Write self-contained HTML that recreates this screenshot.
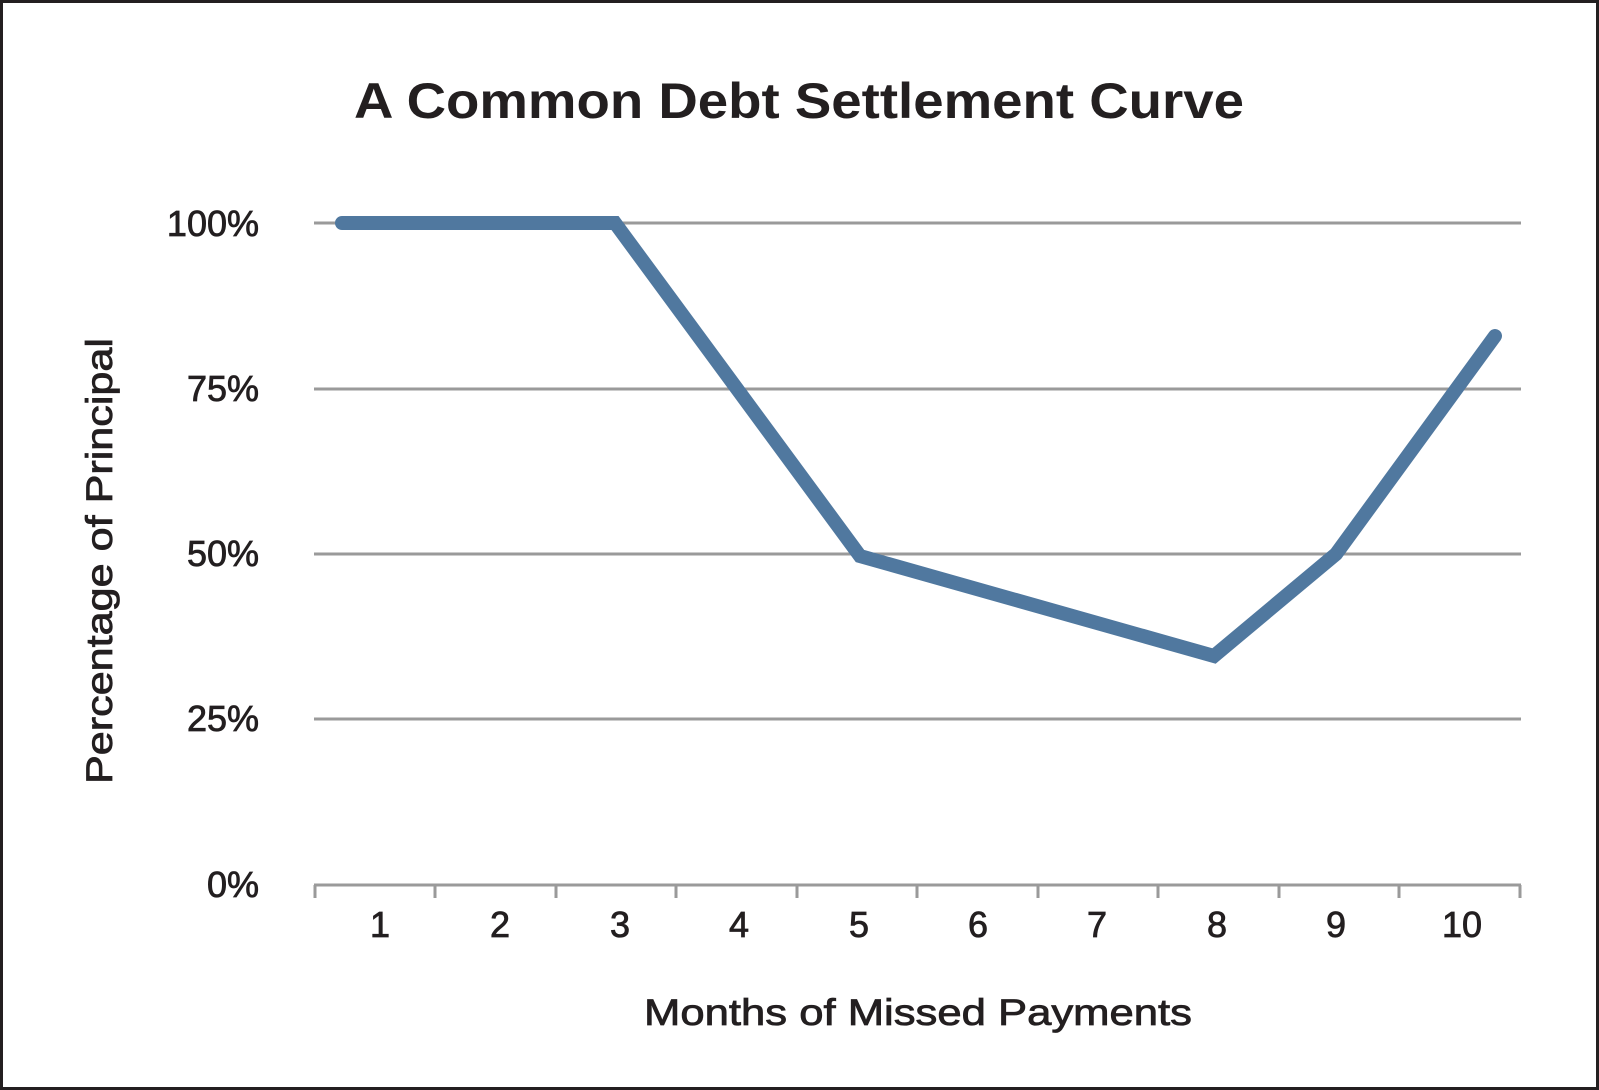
<!DOCTYPE html>
<html><head><meta charset="utf-8"><style>
html,body{margin:0;padding:0;background:#fff;}
svg{display:block;}
text{font-family:"Liberation Sans",sans-serif;fill:#231f20;}
.sb{stroke:#231f20;stroke-width:0.8;}
</style></head><body>
<svg width="1599" height="1090" viewBox="0 0 1599 1090">
<rect x="1.5" y="1.5" width="1596" height="1087" fill="#fff" stroke="#231f20" stroke-width="3"/>
<text x="799" y="118" font-size="50" font-weight="bold" text-anchor="middle" textLength="890" lengthAdjust="spacingAndGlyphs">A Common Debt Settlement Curve</text>
<g stroke="#9a9a9a" stroke-width="3">
<line x1="314" y1="223" x2="1521" y2="223"/>
<line x1="314" y1="389" x2="1521" y2="389"/>
<line x1="314" y1="554" x2="1521" y2="554"/>
<line x1="314" y1="719" x2="1521" y2="719"/>
<line x1="314" y1="885" x2="1521" y2="885"/>
<line x1="315" y1="885" x2="315" y2="898"/>
<line x1="435" y1="885" x2="435" y2="898"/>
<line x1="556" y1="885" x2="556" y2="898"/>
<line x1="676" y1="885" x2="676" y2="898"/>
<line x1="797" y1="885" x2="797" y2="898"/>
<line x1="917" y1="885" x2="917" y2="898"/>
<line x1="1038" y1="885" x2="1038" y2="898"/>
<line x1="1158" y1="885" x2="1158" y2="898"/>
<line x1="1279" y1="885" x2="1279" y2="898"/>
<line x1="1399" y1="885" x2="1399" y2="898"/>
<line x1="1520" y1="885" x2="1520" y2="898"/>
</g>
<g font-size="36" text-anchor="end" class="sb">
<text x="259" y="236">100%</text>
<text x="259" y="401">75%</text>
<text x="259" y="566">50%</text>
<text x="259" y="731">25%</text>
<text x="259" y="897">0%</text>
</g>
<g font-size="36" text-anchor="middle" class="sb">
<text x="380" y="937">1</text>
<text x="500" y="937">2</text>
<text x="620" y="937">3</text>
<text x="739" y="937">4</text>
<text x="859" y="937">5</text>
<text x="978" y="937">6</text>
<text x="1097" y="937">7</text>
<text x="1217" y="937">8</text>
<text x="1336" y="937">9</text>
<text x="1462" y="937">10</text>
</g>
<text x="918" y="1025" font-size="37" text-anchor="middle" textLength="548" lengthAdjust="spacingAndGlyphs" class="sb">Months of Missed Payments</text>
<text transform="translate(112,561) rotate(-90)" font-size="37" text-anchor="middle" textLength="446" lengthAdjust="spacingAndGlyphs" class="sb">Percentage of Principal</text>
<polyline points="342,223 615,223 860,556 1214,656 1336,554 1495,336" fill="none" stroke="#50789f" stroke-width="14" stroke-linecap="round" stroke-linejoin="miter"/>
</svg>
</body></html>
